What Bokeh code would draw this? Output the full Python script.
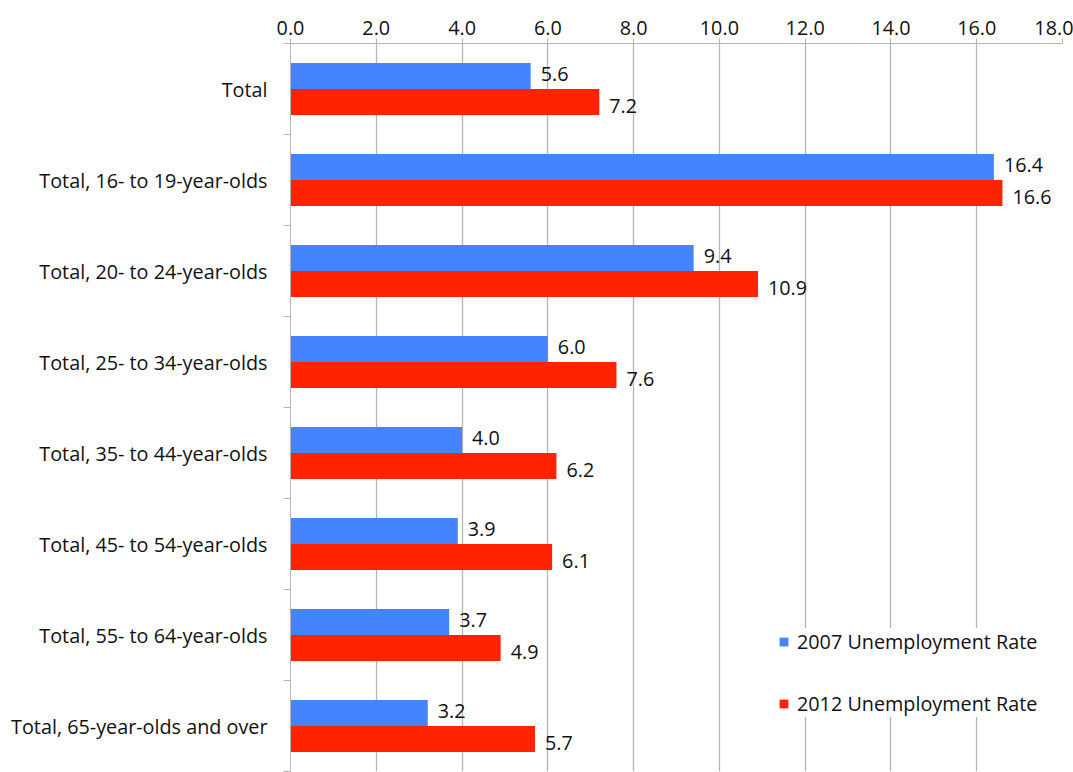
from bokeh.plotting import figure
from bokeh.models import ColumnDataSource, Range1d, FixedTicker, PrintfTickFormatter, Legend, LegendItem
from bokeh.core.properties import value
from bokeh.embed import file_html
from bokeh.resources import INLINE

# Unemployment rate (%) by age group
categories = [
    "Total",
    "Total, 16- to 19-year-olds",
    "Total, 20- to 24-year-olds",
    "Total, 25- to 34-year-olds",
    "Total, 35- to 44-year-olds",
    "Total, 45- to 54-year-olds",
    "Total, 55- to 64-year-olds",
    "Total, 65-year-olds and over",
]
rate_2007 = [5.6, 16.4, 9.4, 6.0, 4.0, 3.9, 3.7, 3.2]
rate_2012 = [7.2, 16.6, 10.9, 7.6, 6.2, 6.1, 4.9, 5.7]
x_ticks = [0, 2, 4, 6, 8, 10, 12, 14, 16, 18]

FONT = "Open Sans"
FS = "19.8px"
BLUE = "#4584FF"
RED = "#FF2300"
GRID = "#b5b5b5"

n = len(categories)
centers = [n - i - 0.5 for i in range(n)]
bar_h = 0.286
shift = bar_h / 2

src07 = ColumnDataSource(dict(
    y=[c + shift for c in centers], v=rate_2007,
    lab=[f"{v:.1f}" for v in rate_2007]))
src12 = ColumnDataSource(dict(
    y=[c - shift for c in centers], v=rate_2012,
    lab=[f"{v:.1f}" for v in rate_2012]))

p = figure(width=1073, height=772, output_backend="svg", toolbar_location=None,
           x_range=Range1d(0, x_ticks[-1]), y_range=Range1d(0, n),
           x_axis_location="above",
           min_border_left=290, min_border_right=11,
           min_border_top=43, min_border_bottom=1)
p.outline_line_color = None
p.background_fill_color = "white"
p.border_fill_color = "white"

r07 = p.hbar(y="y", right="v", left=0, height=bar_h, source=src07,
             fill_color=BLUE, line_color=None)
r12 = p.hbar(y="y", right="v", left=0, height=bar_h, source=src12,
             fill_color=RED, line_color=None)

# value labels just past the end of each bar
for src, dy in ((src07, -2), (src12, 4)):
    p.text(x="v", y="y", text="lab", source=src, x_offset=10, y_offset=dy,
           text_align="left", text_baseline="middle",
           text_font=value(FONT), text_font_size=FS, text_color="#111111")

# top value axis
xa = p.xaxis[0]
xa.ticker = FixedTicker(ticks=x_ticks)
xa.formatter = PrintfTickFormatter(format="%.1f")
xa.axis_line_color = GRID
xa.major_tick_line_color = GRID
xa.major_tick_out = 5
xa.major_tick_in = 0
xa.minor_tick_line_color = None
xa.major_label_standoff = 4
xa.major_label_text_font = FONT
xa.major_label_text_font_size = FS
xa.major_label_text_color = "#111111"

# category axis: labels at group centres, ticks at group boundaries
ya = p.yaxis[0]
ya.ticker = FixedTicker(ticks=centers, minor_ticks=list(range(n + 1)))
ya.major_label_overrides = {c: name for c, name in zip(centers, categories)}
ya.axis_line_color = GRID
ya.major_tick_line_color = None
ya.major_tick_out = 0
ya.major_tick_in = 0
ya.minor_tick_line_color = GRID
ya.minor_tick_out = 7
ya.minor_tick_in = 0
ya.major_label_standoff = 16
ya.major_label_text_font = FONT
ya.major_label_text_font_size = FS
ya.major_label_text_color = "#111111"

p.xgrid.grid_line_color = GRID
p.xgrid.grid_line_width = 1.3
p.ygrid.grid_line_color = None

legend = Legend(items=[
    LegendItem(label="2007 Unemployment Rate", renderers=[r07]),
    LegendItem(label="2012 Unemployment Rate", renderers=[r12]),
], location=(488, 54), orientation="vertical")
legend.margin = 0
legend.padding = 10
legend.spacing = 35
legend.glyph_width = 11
legend.glyph_height = 11
legend.label_height = 20
legend.label_standoff = 8
legend.label_text_font = FONT
legend.label_text_font_size = FS
legend.label_text_color = "#111111"
legend.background_fill_color = "white"
legend.background_fill_alpha = 1.0
legend.border_line_color = None
p.add_layout(legend, "center")

open("out.html", "w").write(file_html(p, INLINE))
